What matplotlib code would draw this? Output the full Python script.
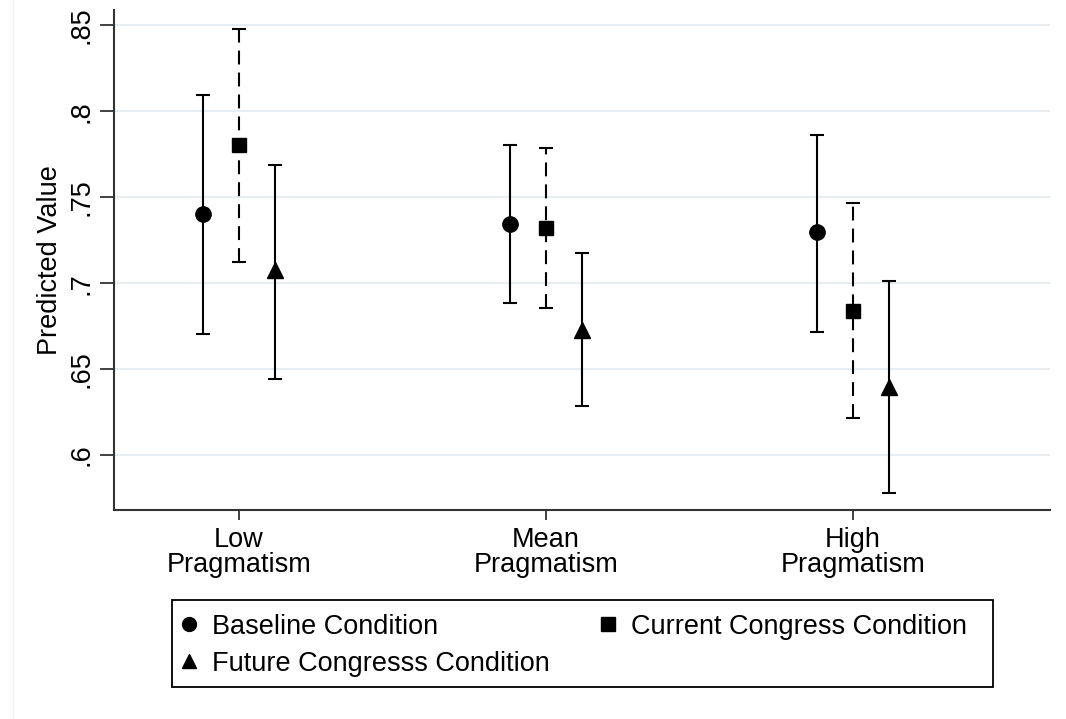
import matplotlib.pyplot as plt
from matplotlib.lines import Line2D
from matplotlib.patches import Rectangle
import numpy as np

plt.rcParams['font.family'] = ['Liberation Sans', 'DejaVu Sans']
plt.rcParams['lines.scale_dashes'] = False

groups = ['Low\nPragmatism', 'Mean\nPragmatism', 'High\nPragmatism']
conditions = ['Baseline Condition', 'Current Congress Condition', 'Future Congresss Condition']

# predicted values with lower / upper confidence bounds, one list per condition
baseline = [0.740, 0.7347, 0.7296]
baseline_lo = [0.6704, 0.6887, 0.6716]
baseline_hi = [0.8097, 0.7803, 0.7865]

current = [0.7803, 0.7323, 0.6837]
current_lo = [0.7125, 0.6853, 0.6218]
current_hi = [0.8480, 0.7788, 0.7469]

future = [0.7074, 0.6726, 0.6395]
future_lo = [0.6444, 0.6284, 0.5777]
future_hi = [0.7688, 0.7177, 0.7013]

yticks = [0.6, 0.65, 0.7, 0.75, 0.8, 0.85]
ytick_labels = ['.6', '.65', '.7', '.75', '.8', '.85']

fs = 19.5
W, H = 1066, 719
fig = plt.figure(figsize=(W / 100, H / 100), dpi=100)
ax = fig.add_axes([114/W, 1 - 510/H, (1050 - 114)/W, 500/H])

x = np.arange(1, len(groups) + 1)
off = 0.117
series = [
    (baseline, baseline_lo, baseline_hi, 'o', 11, -off, 'solid'),
    (current, current_lo, current_hi, 's', 10.5, 0, (0, (10, 5.8))),
    (future, future_lo, future_hi, '^', 12, off, 'solid'),
]
for vals, lo, hi, mk, ms, dx, ls in series:
    vals = np.array(vals)
    err = [vals - np.array(lo), np.array(hi) - vals]
    eb = ax.errorbar(x + dx, vals, yerr=err, fmt=mk, color='black', ms=ms,
                     elinewidth=1.5, capsize=5, capthick=1.5, zorder=3)
    eb[2][0].set_linestyle(ls)

ax.set_xlim(0.593, 3.642)
ax.set_ylim(0.568, 0.859)
ax.set_xticks(x)
ax.set_xticklabels(groups, fontsize=fs, linespacing=0.95)
ax.set_yticks(yticks)
ax.set_yticklabels(ytick_labels, fontsize=fs, rotation=90, va='center')
ax.set_ylabel('Predicted Value', fontsize=fs, labelpad=4)

ax.grid(axis='y', color='#e6eef2', lw=1.5, zorder=0)
ax.set_axisbelow(True)
for s in ['top', 'right']:
    ax.spines[s].set_visible(False)
for s in ['left', 'bottom']:
    ax.spines[s].set_linewidth(1.5)
    ax.spines[s].set_color('#333333')
ax.tick_params(axis='y', length=10, width=1.3, color='#333333', pad=4)
ax.tick_params(axis='x', length=7, width=1.3, color='#333333', pad=5)

# legend: entries placed without frame, box drawn separately
handles = [
    Line2D([], [], marker='o', ls='none', color='black', ms=10),
    Line2D([], [], marker='^', ls='none', color='black', ms=10),
    Line2D([], [], marker='s', ls='none', color='black', ms=9.5),
]
labels = [conditions[0], conditions[2], conditions[1]]
leg = fig.legend(handles, labels, ncol=2, loc='upper left',
                 bbox_to_anchor=(172/W, 1 - 600/H),
                 fontsize=fs, frameon=False,
                 handlelength=0.26, handletextpad=0.72, borderaxespad=0,
                 columnspacing=2.0, labelspacing=0.41, borderpad=0.5)
fig.add_artist(Rectangle((172/W, 1 - 687/H), (993 - 172)/W, 87/H,
                         transform=fig.transFigure, fill=False,
                         ec='black', lw=1.3))

fig.add_artist(Line2D([13/W, 13/W], [0, 1], color='#f2f2f2', lw=1))

fig.savefig('out.png', dpi=100, facecolor='white')
